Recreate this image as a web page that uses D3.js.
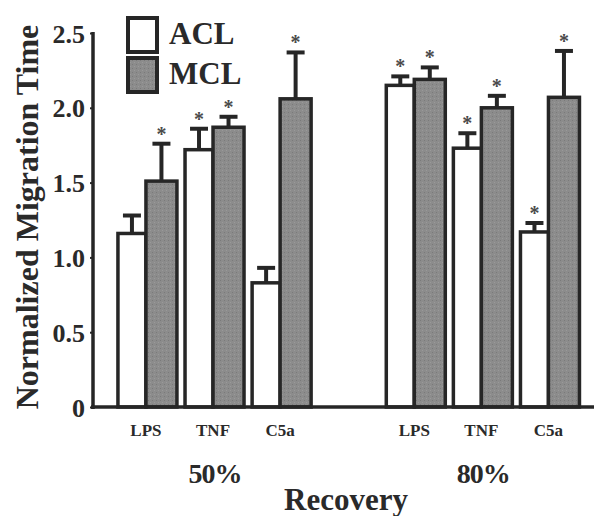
<!DOCTYPE html>
<html><head><meta charset="utf-8">
<script src="https://cdn.jsdelivr.net/npm/d3@7"></script>
<style>body{margin:0;background:#fff}svg{display:block}text{font-family:"Liberation Serif","Times New Roman",serif;font-weight:bold;fill:#2a2a2a}</style>
</head><body><svg id="c" width="594" height="516"></svg>
<script>
const slots = ["LPS50","TNF50","C5a50","gap","LPS80","TNF80","C5a80"];
const catLabels = ["LPS","TNF","C5a","","LPS","TNF","C5a"];
const groups = ["50%","80%"];
const series = ["ACL","MCL"];
const aclVals = [1.16,1.72,0.83,null,2.15,1.73,1.17];
const aclErr  = [0.12,0.14,0.10,null,0.06,0.10,0.06];
const aclStar = [false,true,false,null,true,true,true];
const mclVals = [1.51,1.87,2.06,null,2.19,2.00,2.07];
const mclErr  = [0.25,0.07,0.31,null,0.08,0.08,0.31];
const mclStar = [true,true,true,null,true,true,true];
const yTicks = [0,0.5,1.0,1.5,2.0,2.5];

const svg = d3.select("#c");
const ink = "#262626";
const y = d3.scaleLinear().domain([0,2.5]).range([407,33]);
const x = d3.scaleBand().domain(slots).range([112.4,582]).paddingInner(0);

const defs = svg.append("defs");
const pat = defs.append("pattern").attr("id","tex").attr("width",4).attr("height",4).attr("patternUnits","userSpaceOnUse");
pat.append("rect").attr("width",4).attr("height",4).attr("fill","#8c8c8c");
pat.append("rect").attr("x",0).attr("y",0).attr("width",1).attr("height",1).attr("fill","#7a7a7a");
pat.append("rect").attr("x",2).attr("y",2).attr("width",1).attr("height",1).attr("fill","#9a9a9a");

const rows = slots.map((s,i)=>({s,i,acl:aclVals[i],ae:aclErr[i],as:aclStar[i],mcl:mclVals[i],me:mclErr[i],ms:mclStar[i]})).filter(d=>d.acl!=null);
const aclW = 28, mclW = 31;

function drawBars(key,errKey,x0fn,w,fill){
  const g = svg.append("g");
  rows.forEach(d=>{
    const cx = x0fn(d) + w/2;
    const top = y(d[key]);
    g.append("line").attr("x1",cx).attr("x2",cx).attr("y1",top).attr("y2",y(d[key]+d[errKey]))
      .attr("stroke",ink).attr("stroke-width",4);
    g.append("line").attr("x1",cx-9).attr("x2",cx+9).attr("y1",y(d[key]+d[errKey])).attr("y2",y(d[key]+d[errKey]))
      .attr("stroke",ink).attr("stroke-width",4);
    g.append("rect").attr("x",x0fn(d)).attr("y",top).attr("width",w).attr("height",y(0)-top)
      .attr("fill",fill).attr("stroke",ink).attr("stroke-width",3.5);
  });
}
const center = d => x(d.s) + x.bandwidth()/2;
drawBars("acl","ae",d=>center(d)-aclW,aclW,"#fff");
drawBars("mcl","me",d=>center(d),mclW,"url(#tex)");

const stars = [];
rows.forEach(d=>{
  if (d.as) stars.push({cx:center(d)-aclW/2, v:d.acl+d.ae});
  if (d.ms) stars.push({cx:center(d)+mclW/2, v:d.mcl+d.me});
});
svg.append("g").selectAll("text").data(stars).join("text")
  .attr("x",d=>d.cx).attr("y",d=>y(d.v)-3).attr("text-anchor","middle")
  .style("font-size","20px").style("fill","#4a4a4a").text("*");

const ya = svg.append("g").attr("transform","translate(93,0)")
  .call(d3.axisLeft(y).tickValues(yTicks).tickSize(3).tickPadding(5).tickFormat(d=>d===0?"0":d3.format(".1f")(d)));
ya.select(".domain").attr("stroke",ink).attr("stroke-width",3.5).attr("d","M0,32V409");
ya.selectAll(".tick line").attr("stroke",ink).attr("stroke-width",2);
ya.selectAll(".tick text").style("font-size","26px").style("font-family","Liberation Serif").style("font-weight","bold").attr("fill","#2a2a2a").attr("dy","0.35em");

const xa = svg.append("g").attr("transform","translate(0,407)")
  .call(d3.axisBottom(x).tickSize(0).tickPadding(17).tickFormat((d,i)=>catLabels[i]));
xa.select(".domain").attr("stroke",ink).attr("stroke-width",3.5).attr("d","M91,0H594");
xa.selectAll(".tick text").style("font-size","17px").style("font-family","Liberation Serif").style("font-weight","bold").attr("fill","#2a2a2a");

svg.append("g").selectAll("text").data(groups).join("text")
  .attr("x",(d,i)=>x(slots[1+4*i])+x.bandwidth()/2+2).attr("y",483).attr("text-anchor","middle")
  .style("font-size","28px").style("letter-spacing","-1px").text(d=>d);
svg.append("text").attr("x",346).attr("y",510).attr("text-anchor","middle").style("font-size","31px").text("Recovery");
svg.append("text").attr("transform","translate(38,217) rotate(-90)").attr("text-anchor","middle")
  .style("font-size","32px").text("Normalized Migration Time");

const leg = svg.append("g");
series.forEach((s,i)=>{
  leg.append("rect").attr("x",128).attr("y",18+i*40).attr("width",29).attr("height",34)
    .attr("fill",i?"url(#tex)":"#fff").attr("stroke",ink).attr("stroke-width",4);
  leg.append("text").attr("x",169).attr("y",44+i*40).style("font-size","31px").text(s);
});
</script></body></html>
